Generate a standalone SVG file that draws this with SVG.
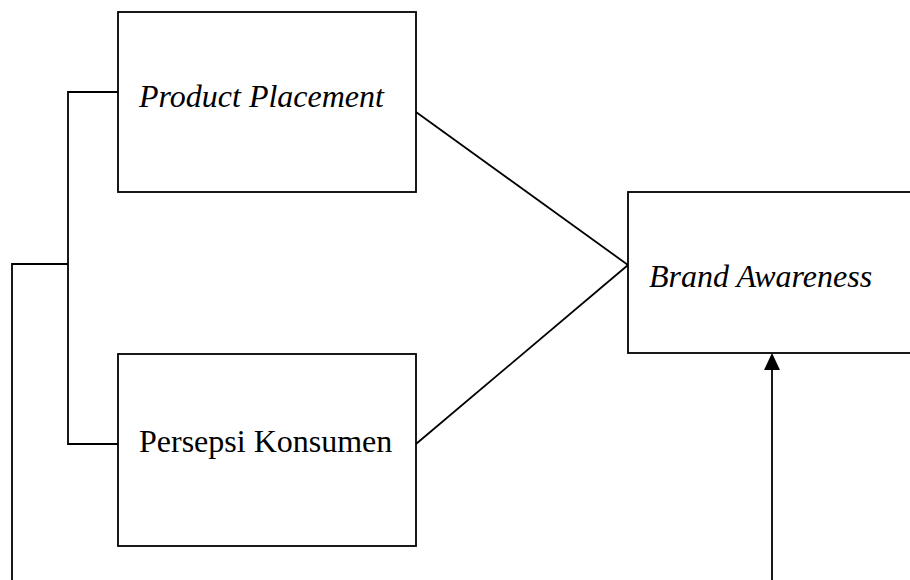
<svg xmlns="http://www.w3.org/2000/svg" width="910" height="580" viewBox="0 0 910 580">
<style>
.box{fill:#fff;stroke:#000;stroke-width:1.8}
.ln{fill:none;stroke:#000;stroke-width:1.8}
.t{font-family:"Liberation Serif","Times New Roman",serif;font-size:32px;fill:#000}
.i{font-style:italic}
</style>
<defs>
<marker id="ah" markerWidth="10" markerHeight="10" refX="10" refY="5" orient="auto" markerUnits="userSpaceOnUse" viewBox="0 0 10 10">
<path d="M0,0 L10,5 L0,10 z" fill="#000"/>
</marker>
</defs>
<rect width="910" height="580" fill="#fff"/>
<g id="connectors">
<polyline class="ln" points="118,92 68,92 68,444 118,444"/>
<polyline class="ln" points="68,264 12,264 12,580"/>
<line class="ln" x1="416" y1="112" x2="628" y2="265"/>
<line class="ln" x1="416" y1="444" x2="628" y2="265"/>
<line class="ln" x1="772" y1="580" x2="772" y2="362"/>
<path d="M772,353 L764,370 L780,370 z" fill="#000"/>
</g>
<g id="node-product-placement">
<rect class="box" x="118" y="12" width="298" height="180"/>
<text class="t i" x="139" y="107">Product Placement</text>
</g>
<g id="node-persepsi-konsumen">
<rect class="box" x="118" y="354" width="298" height="192"/>
<text class="t" x="139" y="452">Persepsi Konsumen</text>
</g>
<g id="node-brand-awareness">
<rect class="box" x="628" y="192" width="300" height="161"/>
<text class="t i" x="649" y="287">Brand Awareness</text>
</g>
</svg>
